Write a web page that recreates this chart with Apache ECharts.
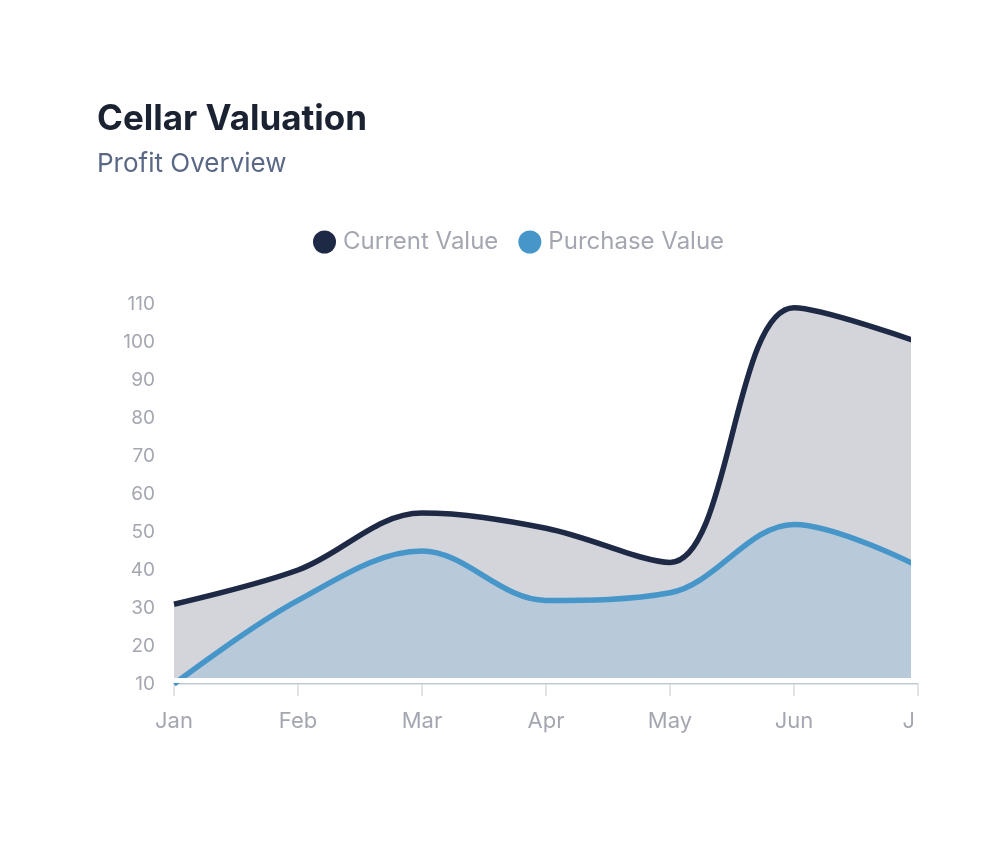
<!DOCTYPE html>
<html>
<head>
<meta charset="utf-8">
<script src="https://cdn.jsdelivr.net/npm/echarts@6/dist/echarts.min.js"></script>
<style>
  html, body { margin: 0; padding: 0; background: #ffffff; }
  #chart { width: 992px; height: 850px; }
</style>
</head>
<body>
<div id="chart"></div>
<script>
// data
const months = ['Jan', 'Feb', 'Mar', 'Apr', 'May', 'Jun', 'Jul'];
const currentValue = [31, 40, 55, 51, 42, 109, 100];
const purchaseValue = [10, 32, 45, 32, 34, 52, 41];
const yTicks = [10, 110, 10]; // min, max, step

const chart = echarts.init(document.getElementById('chart'), null, { renderer: 'canvas' });

const labelFont = 'Inter, "Open Sans", sans-serif';

let option = {
  animation: false,
  backgroundColor: '#ffffff',
  title: [
    {
      text: 'Cellar Valuation',
      left: 97,
      top: 102,
      padding: 0,
      textStyle: { fontFamily: labelFont, fontSize: 35, fontWeight: 700, color: '#1b2232' }
    },
    {
      text: 'Profit Overview',
      left: 97,
      top: 151,
      padding: 0,
      textStyle: { fontFamily: labelFont, fontSize: 26, fontWeight: 400, color: '#5a6885' }
    }
  ],
  legend: {
    top: 230,
    left: 313,
    padding: 0,
    icon: 'circle',
    itemWidth: 23,
    itemHeight: 23,
    itemGap: 20,
    textStyle: { fontFamily: labelFont, fontSize: 24, color: '#a4a7b1', padding: [0, 0, 0, 2] },
    data: ['Current Value', 'Purchase Value']
  },
  grid: {
    left: 174,
    right: 74,
    top: 304,
    bottom: 166,
    containLabel: false
  },
  xAxis: {
    type: 'category',
    data: months,
    boundaryGap: false,
    axisLine: { lineStyle: { color: '#e6e6e8', width: 2 } },
    axisTick: { show: true, length: 12, lineStyle: { color: '#dcdcdf', width: 1.5 } },
    axisLabel: { margin: 26, fontFamily: labelFont, fontSize: 22, color: '#a4a7b1' },
    splitLine: { show: false }
  },
  yAxis: {
    type: 'value',
    min: yTicks[0],
    max: yTicks[1],
    interval: yTicks[2],
    axisLine: { show: false },
    axisTick: { show: false },
    splitLine: { show: false },
    axisLabel: { margin: 19, fontFamily: labelFont, fontSize: 19, color: '#a4a7b1' }
  },
  series: [
    {
      name: 'Current Value',
      type: 'line',
      data: currentValue,
      smooth: 0.35,
      symbol: 'none',
      color: '#1e2945',
      lineStyle: { width: 5.5, color: '#1e2945' },
      areaStyle: { color: '#d4d5da', opacity: 1 },
      z: 2
    },
    {
      name: 'Purchase Value',
      type: 'line',
      data: purchaseValue,
      smooth: 0.35,
      symbol: 'none',
      color: '#4796c9',
      lineStyle: { width: 5.5, color: '#4796c9' },
      areaStyle: { color: '#b8c9da', opacity: 1 },
      z: 3
    }
  ],
  graphic: [
    // the right edge of the reference is faded / cut off
    {
      type: 'rect',
      z: 100,
      shape: { x: 911, y: 290, width: 81, height: 393 },
      style: { fill: '#ffffff' }
    },
    {
      type: 'rect',
      z: 100,
      shape: { x: 913, y: 700, width: 79, height: 50 },
      style: { fill: '#ffffff' }
    },
    // thin white gap between the filled areas and the x axis
    {
      type: 'rect',
      z: 100,
      shape: { x: 172, y: 678, width: 740, height: 5 },
      style: { fill: '#ffffff' }
    }
  ]
};

chart.setOption(option);
</script>
</body>
</html>
